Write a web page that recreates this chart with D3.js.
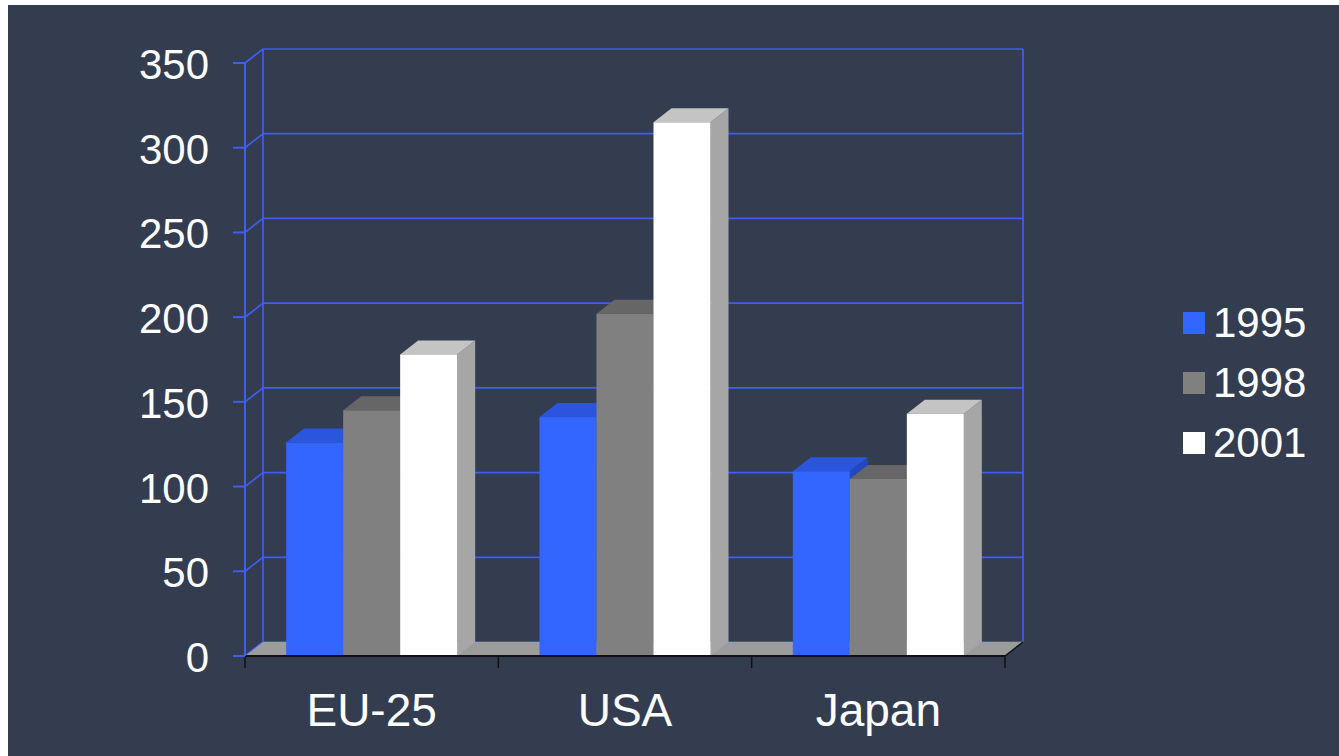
<!DOCTYPE html>
<html>
<head>
<meta charset="utf-8">
<script src="https://cdn.jsdelivr.net/npm/d3@7"></script>
<style>
html,body{margin:0;padding:0;background:#ffffff;}
svg{display:block;}
text{font-family:Arial,"Liberation Sans",sans-serif;fill:#ffffff;}
</style>
</head>
<body>
<svg id="chart" width="1339" height="756"></svg>
<script>
const categories = ["EU-25", "USA", "Japan"];
const seriesNames = ["1995", "1998", "2001"];
const values1995 = [126, 141, 109];
const values1998 = [145, 202, 104.5];
const values2001 = [178, 315, 143];
const yTicks = [0, 50, 100, 150, 200, 250, 300, 350];

const seriesValues = [values1995, values1998, values2001];
const frontColors = ["#3366ff", "#808080", "#ffffff"];
const topColors = ["#2b55dd", "#666666", "#c4c4c4"];
const sideColors = ["#2447c0", "#6c6c6c", "#a6a6a6"];
const gridColor = "#3f5ef2";

const svg = d3.select("#chart");
svg.append("rect").attr("x", 8).attr("y", 5).attr("width", 1331).attr("height", 751).attr("fill", "#333d4f");

const DX = 18, DY = -14;
const y = d3.scaleLinear().domain([0, 350]).range([656, 63]);
const x0 = d3.scaleBand().domain(categories).range([245, 1005]).padding(0);
const x1 = d3.scaleBand().domain(seriesNames).range([0, x0.bandwidth()]).paddingInner(0).paddingOuter(0.722);

const left = x0.range()[0], right = x0.range()[1];
const y0 = y(0);

// back wall gridlines
const g = svg.append("g");
g.selectAll("line.grid").data(yTicks).join("line")
  .attr("x1", left + DX).attr("x2", right + DX)
  .attr("y1", d => y(d) + DY).attr("y2", d => y(d) + DY)
  .attr("stroke", gridColor).attr("stroke-width", 1.7);
// side wall diagonals
g.selectAll("line.diag").data(yTicks).join("line")
  .attr("x1", left).attr("x2", left + DX)
  .attr("y1", d => y(d)).attr("y2", d => y(d) + DY)
  .attr("stroke", gridColor).attr("stroke-width", 1.7);
// back wall verticals
[left + DX, right + DX].forEach(xx => {
  g.append("line").attr("x1", xx).attr("x2", xx)
    .attr("y1", y(350) + DY).attr("y2", y0 + DY)
    .attr("stroke", gridColor).attr("stroke-width", 1.7);
});

// floor
svg.append("polygon")
  .attr("points", [[left, y0], [right, y0], [right + DX, y0 + DY], [left + DX, y0 + DY]].map(p => p.join(",")).join(" "))
  .attr("fill", "#9c9c9c");

// bars
const bars = svg.append("g");
categories.forEach((c, ci) => {
  seriesNames.forEach((s, si) => {
    const v = seriesValues[si][ci];
    const xl = x0(c) + x1(s);
    const w = x1.bandwidth();
    const xr = xl + w;
    const yt = y(v);
    const pts = arr => arr.map(p => p.join(",")).join(" ");
    bars.append("polygon").attr("points", pts([[xr, yt], [xr + DX, yt + DY], [xr + DX, y0 + DY], [xr, y0]]))
      .attr("fill", sideColors[si]);
    bars.append("polygon").attr("points", pts([[xl, yt], [xr, yt], [xr + DX, yt + DY], [xl + DX, yt + DY]]))
      .attr("fill", topColors[si]);
    bars.append("rect").attr("x", xl).attr("y", yt).attr("width", w).attr("height", y0 - yt)
      .attr("fill", frontColors[si]);
  });
});

// front floor edges
svg.append("line").attr("x1", left).attr("x2", right).attr("y1", y0).attr("y2", y0)
  .attr("stroke", "#111111").attr("stroke-width", 2);
svg.append("line").attr("x1", right).attr("x2", right + DX).attr("y1", y0).attr("y2", y0 + DY)
  .attr("stroke", "#111111").attr("stroke-width", 1.5);

// x axis ticks
const xBounds = categories.map(c => x0(c)).concat([right]);
svg.selectAll("line.xtick").data(xBounds).join("line")
  .attr("x1", d => d).attr("x2", d => d).attr("y1", y0).attr("y2", y0 + 12)
  .attr("stroke", "#111111").attr("stroke-width", 1.5);

// y axis
svg.append("line").attr("x1", left).attr("x2", left).attr("y1", y(350)).attr("y2", y0)
  .attr("stroke", gridColor).attr("stroke-width", 2);
svg.selectAll("line.ytick").data(yTicks).join("line")
  .attr("x1", left - 12).attr("x2", left).attr("y1", d => y(d)).attr("y2", d => y(d))
  .attr("stroke", gridColor).attr("stroke-width", 2);
svg.selectAll("text.ylab").data(yTicks).join("text")
  .attr("x", 209).attr("y", d => y(d) + 16)
  .attr("text-anchor", "end").attr("font-size", 42)
  .text(d => d);

// category labels
svg.selectAll("text.xlab").data(categories).join("text")
  .attr("x", d => x0(d) + x0.bandwidth() / 2).attr("y", 726)
  .attr("text-anchor", "middle").attr("font-size", 46)
  .text(d => d);

// legend
const leg = svg.append("g");
seriesNames.forEach((s, i) => {
  leg.append("rect").attr("x", 1183).attr("y", 312 + 60 * i).attr("width", 22).attr("height", 22)
    .attr("fill", frontColors[i]);
  leg.append("text").attr("x", 1213).attr("y", 337 + 60 * i).attr("font-size", 42).text(s);
});
</script>
</body>
</html>
